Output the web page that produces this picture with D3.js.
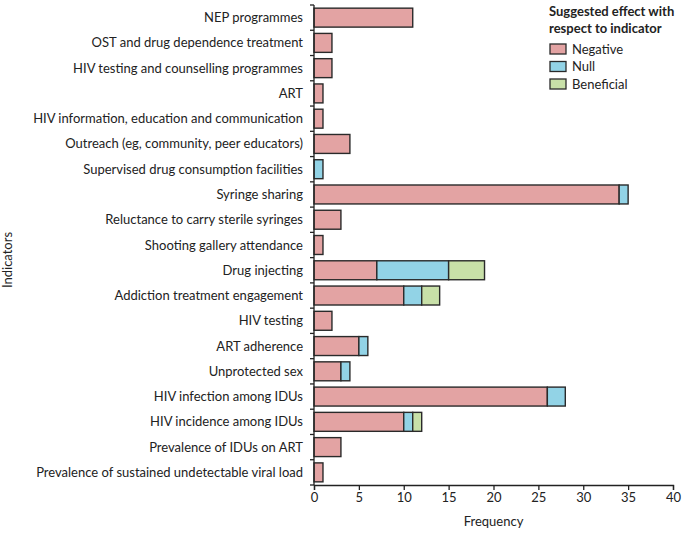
<!DOCTYPE html>
<html><head><meta charset="utf-8">
<script src="https://cdn.jsdelivr.net/npm/d3@7"></script>
<style>body{margin:0;background:#fff}svg{display:block}text{font-family:Lato,"Open Sans",sans-serif;fill:#222}</style>
</head><body><svg id="c" width="685" height="536"></svg>
<script>
const categories = ["NEP programmes","OST and drug dependence treatment","HIV testing and counselling programmes","ART","HIV information, education and communication","Outreach (eg, community, peer educators)","Supervised drug consumption facilities","Syringe sharing","Reluctance to carry sterile syringes","Shooting gallery attendance","Drug injecting","Addiction treatment engagement","HIV testing","ART adherence","Unprotected sex","HIV infection among IDUs","HIV incidence among IDUs","Prevalence of IDUs on ART","Prevalence of sustained undetectable viral load"];
const negative   = [11,2,2,1,1,4,0,34,3,1,7,10,2,5,3,26,10,3,1];
const nullEffect = [0,0,0,0,0,0,1,1,0,0,8,2,0,1,1,2,1,0,0];
const beneficial = [0,0,0,0,0,0,0,0,0,0,4,2,0,0,0,0,1,0,0];
const seriesNames = ["Negative","Null","Beneficial"];
const colors = ["#e3a3a3","#92d3e6","#c8e0a8"];
const xTicks = [0,5,10,15,20,25,30,35,40];

const svg = d3.select("#c");
const m = {l:314, r:673, t:5, b:485};
const fs = 13;
const x = d3.scaleLinear().domain([0,40]).range([m.l,m.r]);
const y = d3.scaleBand().domain(categories).range([m.t,m.b]).paddingInner(0.25).paddingOuter(0.125);

const rows = categories.map((c,i)=>({cat:c, Negative:negative[i], Null:nullEffect[i], Beneficial:beneficial[i]}));
const stack = d3.stack().keys(seriesNames)(rows);

stack.forEach((s,si)=>{
  svg.append("g").selectAll("rect").data(s.filter(d=>d[1]-d[0]>0)).join("rect")
    .attr("x",d=>x(d[0])).attr("width",d=>x(d[1])-x(d[0]))
    .attr("y",d=>y(d.data.cat)).attr("height",y.bandwidth())
    .attr("fill",colors[si]).attr("stroke","#2a2a2a").attr("stroke-width",1.4);
});

// x axis
const xa = svg.append("g").attr("transform",`translate(0,${m.b})`)
  .call(d3.axisBottom(x).tickValues(xTicks).tickSize(5).tickPadding(3));
xa.select(".domain").attr("stroke","#222").attr("stroke-width",1.3);
xa.selectAll(".tick line").attr("stroke","#222").attr("stroke-width",1.3);
xa.selectAll("text").attr("font-size",fs).style("fill","#222");

// y axis line and boundary ticks
svg.append("line").attr("x1",m.l).attr("x2",m.l).attr("y1",m.t).attr("y2",m.b).attr("stroke","#222").attr("stroke-width",1.3);
const bounds = d3.range(categories.length+1).map(i=>m.t + i*(m.b-m.t)/categories.length);
svg.append("g").selectAll("line").data(bounds).join("line")
  .attr("x1",m.l-4).attr("x2",m.l).attr("y1",d=>d).attr("y2",d=>d).attr("stroke","#222").attr("stroke-width",1.3);
svg.append("g").selectAll("text").data(categories).join("text")
  .attr("x",303).attr("y",d=>y(d)+y.bandwidth()/2).attr("dy","0.35em")
  .attr("text-anchor","end").attr("font-size",fs).text(d=>d);

svg.append("text").attr("x",(m.l+m.r)/2).attr("y",526).attr("text-anchor","middle").attr("font-size",fs).text("Frequency");
svg.append("text").attr("transform","translate(12,260) rotate(-90)").attr("text-anchor","middle").attr("font-size",fs).text("Indicators");

// legend
const lg = svg.append("g");
lg.append("text").attr("x",549).attr("y",16).attr("font-size",fs).attr("font-weight","bold").text("Suggested effect with");
lg.append("text").attr("x",549).attr("y",33).attr("font-size",fs).attr("font-weight","bold").text("respect to indicator");
seriesNames.forEach((n,i)=>{
  lg.append("rect").attr("x",550).attr("y",44+i*17.5).attr("width",16).attr("height",10)
    .attr("fill",colors[i]).attr("stroke","#2a2a2a").attr("stroke-width",1.3);
  lg.append("text").attr("x",572).attr("y",49+i*17.5).attr("dy","0.35em").attr("font-size",fs).text(n);
});
</script></body></html>
